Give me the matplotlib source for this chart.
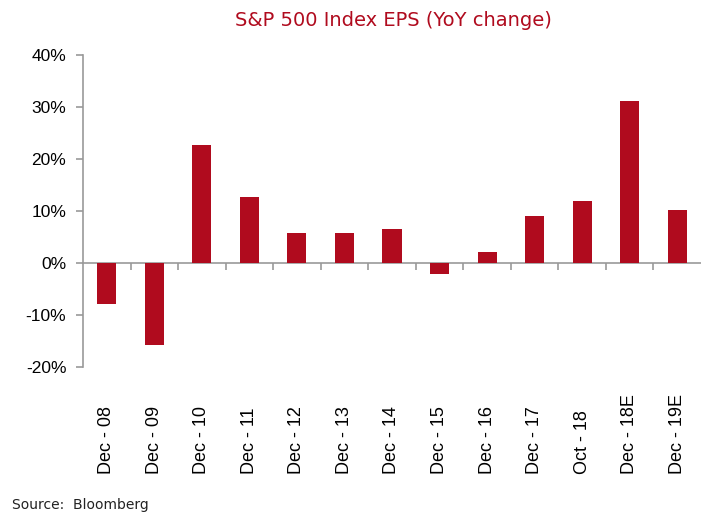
import matplotlib
matplotlib.use("Agg")
import matplotlib.pyplot as plt
import matplotlib.transforms as mtransforms
import numpy as np

categories = ["Dec - 08", "Dec - 09", "Dec - 10", "Dec - 11", "Dec - 12", "Dec - 13",
              "Dec - 14", "Dec - 15", "Dec - 16", "Dec - 17", "Oct - 18", "Dec - 18E", "Dec - 19E"]
values = [-7.9, -15.7, 22.6, 12.6, 5.7, 5.8, 6.5, -2.1, 2.1, 9.0, 11.9, 31.2, 10.2]
yticks = [-20, -10, 0, 10, 20, 30, 40]

plt.rcParams['font.family'] = ['Liberation Sans', 'DejaVu Sans']
red = "#B00B1E"
gray = "#999999"

fig = plt.figure(figsize=(7.01, 5.14), dpi=100)
ax = fig.add_axes([83/701, 1-367/514, (701-83)/701, (367-55)/514])

x = np.arange(len(categories))
ax.bar(x, values, width=0.4, color=red, zorder=3)

ax.set_xlim(-0.5, len(categories)-0.5)
ax.set_ylim(-20, 40)
ax.set_yticks(yticks)
ax.set_yticklabels([f"{t}%" for t in yticks], fontsize=12.5)
ax.tick_params(axis='y', direction='out', length=5, color=gray, width=1.2, pad=7)

ax.spines['top'].set_visible(False)
ax.spines['right'].set_visible(False)
ax.spines['left'].set_color(gray)
ax.spines['left'].set_linewidth(1.2)
ax.spines['bottom'].set_position(('data', 0))
ax.spines['bottom'].set_color(gray)
ax.spines['bottom'].set_linewidth(1.2)

ax.set_xticks(x[:-1] + 0.5)
ax.set_xticklabels([])
ax.tick_params(axis='x', direction='out', length=5, color=gray, width=1.2)

trans = mtransforms.blended_transform_factory(ax.transData, fig.transFigure)
for xi, lab in zip(x, categories):
    ax.text(xi, 1-474/514, lab, transform=trans, rotation=90, ha='center', va='bottom',
            fontsize=13, color='black')

fig.text(393/701, 1-20/514, "S&P 500 Index EPS (YoY change)", ha='center', va='center',
         fontsize=14, color=red, family=['DejaVu Sans'])
fig.text(12/701, 1-505/514, "Source:  Bloomberg", ha='left', va='center', fontsize=10,
         color='#222222', family=['DejaVu Sans'])

fig.savefig("out.png", dpi=100)
